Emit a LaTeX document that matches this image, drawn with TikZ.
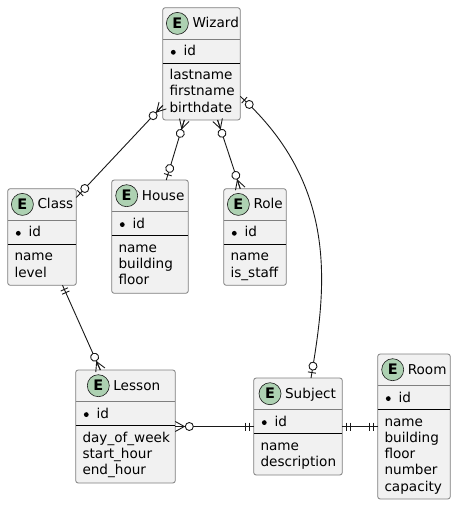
\documentclass[tikz,border=0pt]{standalone}
\usepackage{fontspec}
\setmainfont{DejaVu Sans}
\usepackage{xcolor}
\usetikzlibrary{decorations.markings}

\definecolor{boxfill}{HTML}{F1F1F1}
\definecolor{boxline}{HTML}{7F7F7F}
\definecolor{linkline}{HTML}{181818}
\definecolor{entitygreen}{HTML}{ADD1B2}

\tikzset{
	entitybox/.style={draw=boxline, fill=boxfill, line width=0.8pt, rounded corners=2.5pt, inner sep=0pt, outer sep=0pt},
	label/.style={inner sep=0pt, anchor=base west, font=\fontsize{13.6}{16}\selectfont, text=black},
	ebadge/.style={circle, draw=linkline, line width=0.6pt, fill=entitygreen, minimum size=22pt, inner sep=0pt, font=\fontsize{14.5}{16}\selectfont\bfseries},
	link/.style={draw=linkline, line width=0.9pt},
	atstart/.style={postaction={decorate, decoration={markings, mark=at position 0 with {#1}}}},
	atend/.style={postaction={decorate, decoration={markings, mark=at position 0.9999 with {\begin{scope}[xscale=-1]#1\end{scope}}}}}
}

% --- connector ends, x axis points away from the entity ---
\newcommand{\crowzero}{
	\draw[link] (0,-5) -- (9,0) -- (0,5);
	\draw[link] (0,0) -- (9,0);
	\draw[link, fill=white] (14,0) circle (4pt);
}
\newcommand{\barzero}{
	\draw[link] (5.5,-4) -- (5.5,4);
	\draw[link, fill=white] (12,0) circle (4pt);
}
\newcommand{\barbar}{
	\draw[link] (4.5,-4) -- (4.5,4);
	\draw[link] (8,-4) -- (8,4);
}

% --- entity: name, left, top, right, bottom, badge offset, title, attributes ---
\newcommand{\entity}[8]{
	\pgfmathsetmacro{\ew}{#4-#2}
	\pgfmathsetmacro{\eh}{#5-#3}
	\node[entitybox, minimum width=\ew pt, minimum height=\eh pt] (#1) at ({(#2+#4)/2},{(#3+#5)/2}) {};
	\draw[boxline, line width=0.8pt] (#2,{#3+31.6}) -- (#4,{#3+31.6});
	\draw[black, line width=0.8pt] (#2,{#3+55.4}) -- (#4,{#3+55.4});
	\node[ebadge] (#1-badge) at ({#2+#6},{#3+15.7}) {E};
	\node[label] (#1-title) at ({#2+#6+14.9},{#3+20}) {#7};
	\fill[black] ({#2+10.6},{#3+44.6}) circle (2.4pt);
	\node[label] (#1-id) at ({#2+20.6},{#3+48}) {id};
	\foreach \attr [count=\n] in {#8} {
		\node[label] (#1-attr\n) at ({#2+6.6},{#3+72+(\n-1)*16.3}) {\attr};
	}
}

\begin{document}
\begin{tikzpicture}[x=1pt, y=-1pt]
	
	\useasboundingbox (0,0) rectangle (456,505);
	
	% Render the entities
	\entity{wizard}{162.7}{7.7}{240.3}{120}{14.7}{Wizard}{lastname,firstname,birthdate}
	\entity{class}{7.7}{188.7}{76.3}{285.3}{14.7}{Class}{name,level}
	\entity{house}{111.7}{180}{188.3}{293.3}{15}{House}{name,building,floor}
	\entity{role}{223.7}{188.7}{286.3}{285.3}{14.7}{Role}{name,is\_staff}
	\entity{lesson}{75.7}{370}{175.3}{483}{22.6}{Lesson}{day\_of\_week,start\_hour,end\_hour}
	\entity{subject}{253.7}{378}{342.3}{475}{16.3}{Subject}{name,description}
	\entity{room}{377.7}{354}{450.3}{499}{15}{Room}{name,building,floor,number,capacity}
	
	% Connectors
	\draw[link, atstart=\crowzero, atend=\barzero] (wizard.227) -- (class.49);
	\draw[link, atstart=\crowzero, atend=\barzero] (wizard.253.3) -- (house.74);
	\draw[link, atstart=\crowzero, atend=\crowzero] (wizard.286.2) -- (role.107.4);
	\draw[link, atstart=\barzero, atend=\barzero] (wizard.320) .. controls (342,188) and (325,294) .. (subject.75.5);
	\draw[link, atstart=\barbar, atend=\crowzero] (class.293.2) -- (lesson.114);
	\draw[link, atstart=\crowzero, atend=\barbar] (lesson.east) -- (subject.west);
	\draw[link, atstart=\barbar, atend=\barbar] (subject.east) -- (room.west);
	
\end{tikzpicture}
\end{document}
